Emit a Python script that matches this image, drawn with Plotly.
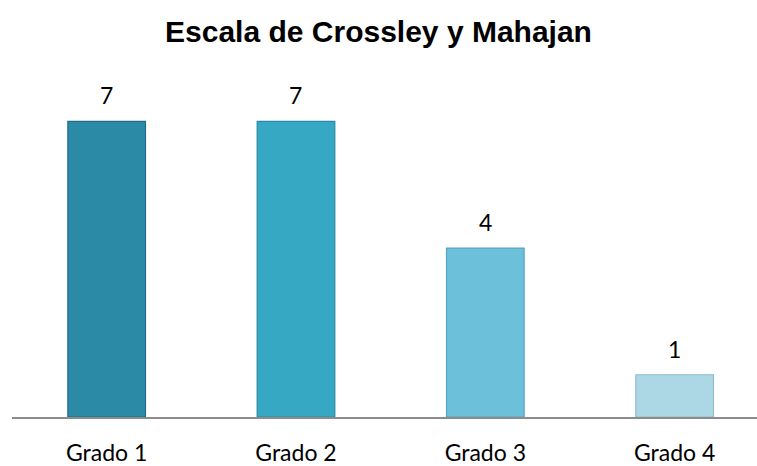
import plotly.graph_objects as go

categories = ["Grado 1", "Grado 2", "Grado 3", "Grado 4"]
values = [7, 7, 4, 1]
bar_colors = ["#2b8ba7", "#36a8c4", "#6cc0da", "#acd8e6"]
edge_colors = ["#1f6e85", "#2a8aa3", "#56a6bf", "#8fbccb"]

label_font = dict(family="Lato, Carlito, Calibri, sans-serif", size=23, color="#000000")

fig = go.Figure()
fig.add_trace(go.Bar(
    x=categories, y=values,
    width=0.41,
    marker=dict(color=bar_colors, line=dict(color=edge_colors, width=1.2)),
    hoverinfo="x+y",
))

for c, v in zip(categories, values):
    fig.add_annotation(x=c, y=v, text=str(v), showarrow=False,
                       yanchor="bottom", yshift=10, font=label_font)

fig.update_layout(
    width=757, height=466,
    paper_bgcolor="white", plot_bgcolor="white",
    margin=dict(l=12, r=0, t=80, b=46),
    title=dict(text="<b>Escala de Crossley y Mahajan</b>", x=0.5, xanchor="center",
               y=1 - 31 / 466, yanchor="middle",
               font=dict(family="Liberation Sans, Arial, sans-serif", size=30, color="#000000")),
    showlegend=False,
)
fig.update_xaxes(
    range=[-0.5, 3.435],
    showline=True, linecolor="#8c8c8c", linewidth=1.5,
    ticks="outside", ticklen=15, tickcolor="rgba(0,0,0,0)",
    tickfont=label_font,
    showgrid=False, zeroline=False,
)
fig.update_yaxes(range=[0, 7.98], visible=False, showgrid=False, zeroline=False)

fig.write_html("out.html", config={"displayModeBar": False},
               post_script="document.body.style.margin='0';")
